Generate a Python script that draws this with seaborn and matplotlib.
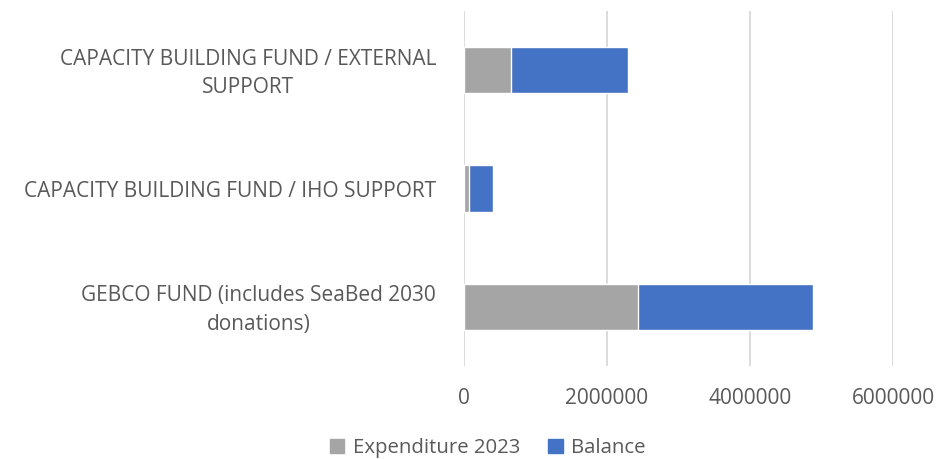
import numpy as np
import pandas as pd
import seaborn as sns
import matplotlib.pyplot as plt
import matplotlib.transforms as mtransforms
from matplotlib.patches import Patch

## Values
funds = ["CAPACITY BUILDING FUND / EXTERNAL\nSUPPORT",
         "CAPACITY BUILDING FUND / IHO SUPPORT",
         "GEBCO FUND (includes SeaBed 2030\ndonations)"]
expenditure = [656000, 70000, 2428000]
balance = [1642000, 339000, 2447000]
ticks = [0, 2000000, 4000000, 6000000]

df = pd.DataFrame({"fund": funds, "expenditure": expenditure, "balance": balance})
df["total"] = df["expenditure"] + df["balance"]

sns.set_theme(style="white")
plt.rcParams["font.family"] = ["Open Sans", "DejaVu Sans"]
text_col = "#595959"

fig = plt.figure(figsize=(9.38, 4.59), dpi=100)
ax = fig.add_axes([464 / 938, 1 - 366 / 459, (893 - 464) / 938, 355 / 459])

## stacked bars: total in blue, expenditure drawn over it in grey
sns.barplot(data=df, y="fund", x="total", color="#4472C4", width=0.39,
            saturation=1, ax=ax, zorder=3)
sns.barplot(data=df, y="fund", x="expenditure", color="#A5A5A5", width=0.39,
            saturation=1, ax=ax, zorder=4)

ax.set_xlim(0, 6000000)
ax.set_xticks(ticks)
ax.set_xticklabels([str(t) for t in ticks])
ax.grid(axis="x", color="#D9D9D9", linewidth=1.3, zorder=0)
ax.grid(axis="y", visible=False)
for s in ax.spines.values():
    s.set_visible(False)
ax.set_xlabel("")
ax.set_ylabel("")
ax.tick_params(axis="x", colors=text_col, labelsize=15, pad=16, length=0)
ax.tick_params(axis="y", colors=text_col, labelsize=15, pad=20, length=0)
nudge = mtransforms.ScaledTranslation(0, 3 / 100, fig.dpi_scale_trans)
for lab in ax.get_yticklabels():
    lab.set_multialignment("center")
    lab.set_linespacing(1.45)
    if "\n" in lab.get_text():
        lab.set_transform(lab.get_transform() + nudge)

handles = [Patch(color="#A5A5A5", label="Expenditure 2023"),
           Patch(color="#4472C4", label="Balance")]
leg = fig.legend(handles=handles, loc="lower center", ncol=2, frameon=False,
                 bbox_to_anchor=(0.52, -0.038), fontsize=14.7, handlelength=0.7,
                 handleheight=0.7, handletextpad=0.4, columnspacing=1.4)
for t in leg.get_texts():
    t.set_color(text_col)

fig.savefig("out.png", dpi=100)
